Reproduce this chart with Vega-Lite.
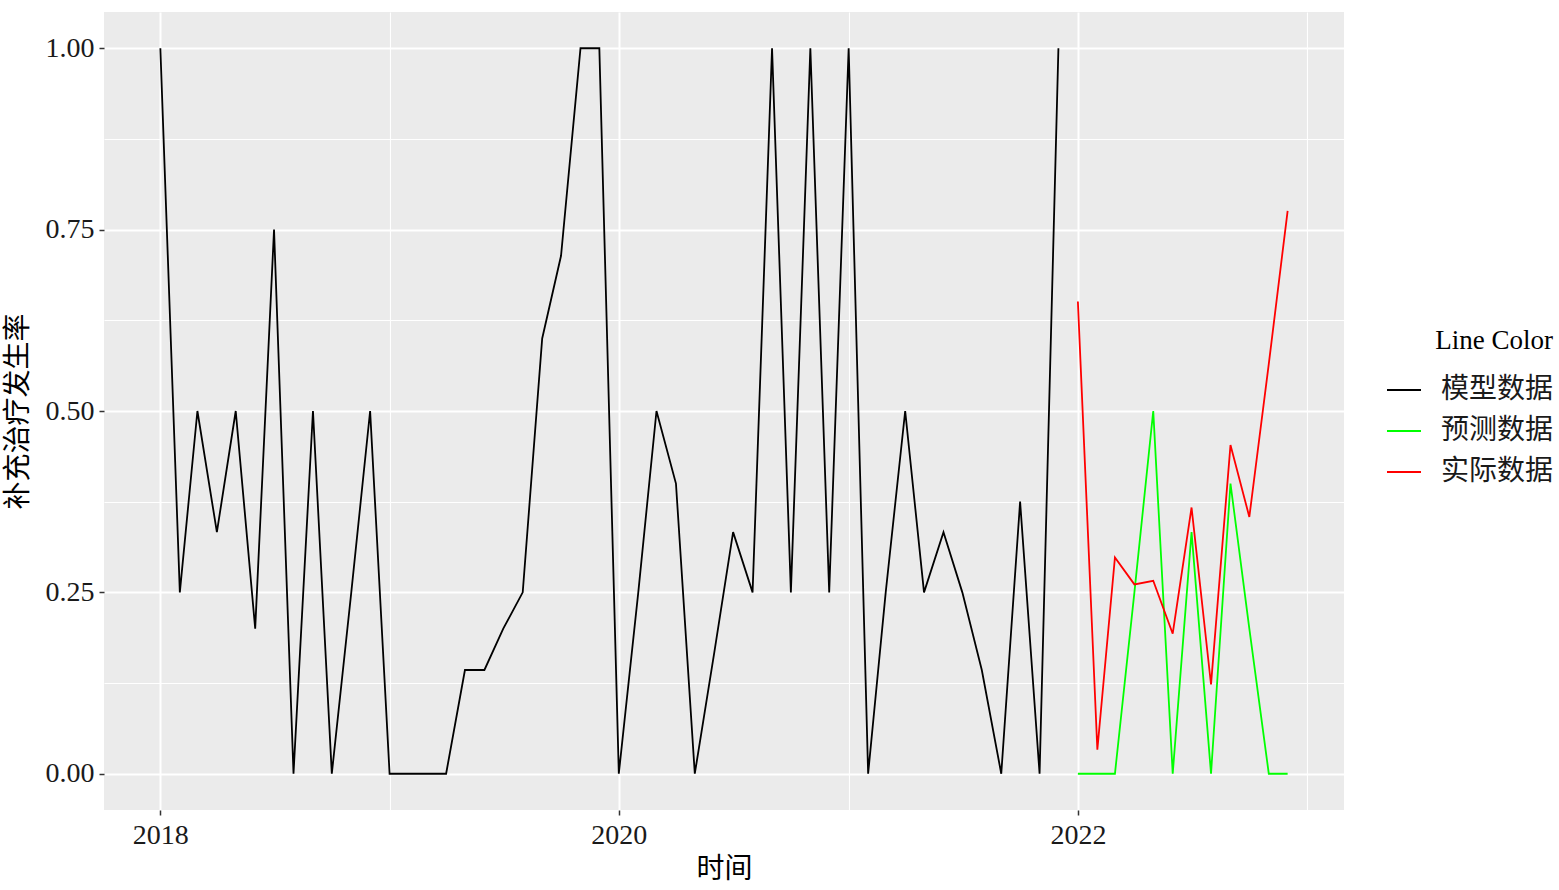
{
  "$schema": "https://vega.github.io/schema/vega-lite/v6.json",
  "autosize": {"type": "none"},
  "width": 1240,
  "height": 798,
  "padding": {"left": 104, "top": 12, "right": 215, "bottom": 80},
  "background": "white",
  "config": {
    "view": {"fill": "#EBEBEB", "stroke": null},
    "font": "Liberation Serif, Noto Sans CJK SC",
    "axis": {
      "domain": false,
      "gridColor": "#FFFFFF",
      "tickColor": "#333333",
      "tickWidth": 1.5,
      "tickSize": 5,
      "labelFont": "Liberation Serif, Noto Sans CJK SC",
      "labelFontSize": 28,
      "labelColor": "#1A1A1A",
      "titleFont": "Liberation Serif, Noto Sans CJK SC",
      "titleFontSize": 28,
      "titleFontWeight": "normal",
      "titleColor": "#000000"
    },
    "legend": {
      "labelFont": "Liberation Serif, Noto Sans CJK SC",
      "titleFont": "Liberation Serif, Noto Sans CJK SC"
    }
  },
  "data": {
    "values": [
      {"date": "2018-01-01T00:00:00", "value": 1.0, "series": "模型数据"},
      {"date": "2018-02-01T00:00:00", "value": 0.25, "series": "模型数据"},
      {"date": "2018-03-01T00:00:00", "value": 0.5, "series": "模型数据"},
      {"date": "2018-04-01T00:00:00", "value": 0.333, "series": "模型数据"},
      {"date": "2018-05-01T00:00:00", "value": 0.5, "series": "模型数据"},
      {"date": "2018-06-01T00:00:00", "value": 0.2, "series": "模型数据"},
      {"date": "2018-07-01T00:00:00", "value": 0.75, "series": "模型数据"},
      {"date": "2018-08-01T00:00:00", "value": 0.0, "series": "模型数据"},
      {"date": "2018-09-01T00:00:00", "value": 0.5, "series": "模型数据"},
      {"date": "2018-10-01T00:00:00", "value": 0.0, "series": "模型数据"},
      {"date": "2018-11-01T00:00:00", "value": 0.25, "series": "模型数据"},
      {"date": "2018-12-01T00:00:00", "value": 0.5, "series": "模型数据"},
      {"date": "2019-01-01T00:00:00", "value": 0.0, "series": "模型数据"},
      {"date": "2019-02-01T00:00:00", "value": 0.0, "series": "模型数据"},
      {"date": "2019-03-01T00:00:00", "value": 0.0, "series": "模型数据"},
      {"date": "2019-04-01T00:00:00", "value": 0.0, "series": "模型数据"},
      {"date": "2019-05-01T00:00:00", "value": 0.143, "series": "模型数据"},
      {"date": "2019-06-01T00:00:00", "value": 0.143, "series": "模型数据"},
      {"date": "2019-07-01T00:00:00", "value": 0.2, "series": "模型数据"},
      {"date": "2019-08-01T00:00:00", "value": 0.25, "series": "模型数据"},
      {"date": "2019-09-01T00:00:00", "value": 0.6, "series": "模型数据"},
      {"date": "2019-10-01T00:00:00", "value": 0.714, "series": "模型数据"},
      {"date": "2019-11-01T00:00:00", "value": 1.0, "series": "模型数据"},
      {"date": "2019-12-01T00:00:00", "value": 1.0, "series": "模型数据"},
      {"date": "2020-01-01T00:00:00", "value": 0.0, "series": "模型数据"},
      {"date": "2020-02-01T00:00:00", "value": 0.25, "series": "模型数据"},
      {"date": "2020-03-01T00:00:00", "value": 0.5, "series": "模型数据"},
      {"date": "2020-04-01T00:00:00", "value": 0.4, "series": "模型数据"},
      {"date": "2020-05-01T00:00:00", "value": 0.0, "series": "模型数据"},
      {"date": "2020-06-01T00:00:00", "value": 0.167, "series": "模型数据"},
      {"date": "2020-07-01T00:00:00", "value": 0.333, "series": "模型数据"},
      {"date": "2020-08-01T00:00:00", "value": 0.25, "series": "模型数据"},
      {"date": "2020-09-01T00:00:00", "value": 1.0, "series": "模型数据"},
      {"date": "2020-10-01T00:00:00", "value": 0.25, "series": "模型数据"},
      {"date": "2020-11-01T00:00:00", "value": 1.0, "series": "模型数据"},
      {"date": "2020-12-01T00:00:00", "value": 0.25, "series": "模型数据"},
      {"date": "2021-01-01T00:00:00", "value": 1.0, "series": "模型数据"},
      {"date": "2021-02-01T00:00:00", "value": 0.0, "series": "模型数据"},
      {"date": "2021-03-01T00:00:00", "value": 0.25, "series": "模型数据"},
      {"date": "2021-04-01T00:00:00", "value": 0.5, "series": "模型数据"},
      {"date": "2021-05-01T00:00:00", "value": 0.25, "series": "模型数据"},
      {"date": "2021-06-01T00:00:00", "value": 0.333, "series": "模型数据"},
      {"date": "2021-07-01T00:00:00", "value": 0.25, "series": "模型数据"},
      {"date": "2021-08-01T00:00:00", "value": 0.143, "series": "模型数据"},
      {"date": "2021-09-01T00:00:00", "value": 0.0, "series": "模型数据"},
      {"date": "2021-10-01T00:00:00", "value": 0.375, "series": "模型数据"},
      {"date": "2021-11-01T00:00:00", "value": 0.0, "series": "模型数据"},
      {"date": "2021-12-01T00:00:00", "value": 1.0, "series": "模型数据"},
      {"date": "2022-01-01T00:00:00", "value": 0.0, "series": "预测数据"},
      {"date": "2022-02-01T00:00:00", "value": 0.0, "series": "预测数据"},
      {"date": "2022-03-01T00:00:00", "value": 0.0, "series": "预测数据"},
      {"date": "2022-04-01T00:00:00", "value": 0.25, "series": "预测数据"},
      {"date": "2022-05-01T00:00:00", "value": 0.5, "series": "预测数据"},
      {"date": "2022-06-01T00:00:00", "value": 0.0, "series": "预测数据"},
      {"date": "2022-07-01T00:00:00", "value": 0.333, "series": "预测数据"},
      {"date": "2022-08-01T00:00:00", "value": 0.0, "series": "预测数据"},
      {"date": "2022-09-01T00:00:00", "value": 0.4, "series": "预测数据"},
      {"date": "2022-10-01T00:00:00", "value": 0.2, "series": "预测数据"},
      {"date": "2022-11-01T00:00:00", "value": 0.0, "series": "预测数据"},
      {"date": "2022-12-01T00:00:00", "value": 0.0, "series": "预测数据"},
      {"date": "2022-01-01T00:00:00", "value": 0.651, "series": "实际数据"},
      {"date": "2022-02-01T00:00:00", "value": 0.033, "series": "实际数据"},
      {"date": "2022-03-01T00:00:00", "value": 0.298, "series": "实际数据"},
      {"date": "2022-04-01T00:00:00", "value": 0.261, "series": "实际数据"},
      {"date": "2022-05-01T00:00:00", "value": 0.266, "series": "实际数据"},
      {"date": "2022-06-01T00:00:00", "value": 0.193, "series": "实际数据"},
      {"date": "2022-07-01T00:00:00", "value": 0.367, "series": "实际数据"},
      {"date": "2022-08-01T00:00:00", "value": 0.123, "series": "实际数据"},
      {"date": "2022-09-01T00:00:00", "value": 0.453, "series": "实际数据"},
      {"date": "2022-10-01T00:00:00", "value": 0.354, "series": "实际数据"},
      {"date": "2022-11-01T00:00:00", "value": 0.565, "series": "实际数据"},
      {"date": "2022-12-01T00:00:00", "value": 0.776, "series": "实际数据"}
    ]
  },
  "mark": {"type": "line", "strokeWidth": 1.8, "interpolate": "linear"},
  "encoding": {
    "x": {
      "field": "date",
      "type": "temporal",
      "title": "时间",
      "scale": {
        "domain": [
          {"year": 2017, "month": 10, "date": 3, "hours": 6},
          {"year": 2023, "month": 2, "date": 28, "hours": 18}
        ],
        "nice": false
      },
      "axis": {
        "values": [
          {"year": 2018, "month": 1, "date": 1},
          {"year": 2019, "month": 1, "date": 1},
          {"year": 2020, "month": 1, "date": 1},
          {"year": 2021, "month": 1, "date": 1},
          {"year": 2022, "month": 1, "date": 1},
          {"year": 2023, "month": 1, "date": 1}
        ],
        "labelExpr": "year(datum.value) % 2 == 0 ? timeFormat(datum.value, '%Y') : ''",
        "gridWidth": {"condition": {"test": "year(datum.value) % 2 == 1", "value": 1.1}, "value": 2},
        "tickOpacity": {"condition": {"test": "year(datum.value) % 2 == 1", "value": 0}, "value": 1},
        "labelPadding": 6,
        "titlePadding": 6,
        "labelFlush": false,
        "labelOverlap": false
      }
    },
    "y": {
      "field": "value",
      "type": "quantitative",
      "title": "补充治疗发生率",
      "scale": {"domain": [-0.05, 1.05], "nice": false, "zero": false},
      "axis": {
        "values": [0, 0.125, 0.25, 0.375, 0.5, 0.625, 0.75, 0.875, 1],
        "labelExpr": "(datum.value * 8) % 2 == 0 ? format(datum.value, '.2f') : ''",
        "gridWidth": {"condition": {"test": "(datum.value * 8) % 2 == 1", "value": 1.1}, "value": 2},
        "tickOpacity": {"condition": {"test": "(datum.value * 8) % 2 == 1", "value": 0}, "value": 1},
        "labelPadding": 5,
        "titlePadding": 13,
        "labelFlush": false,
        "labelOverlap": false
      }
    },
    "color": {
      "field": "series",
      "type": "nominal",
      "scale": {
        "domain": ["模型数据", "预测数据", "实际数据"],
        "range": ["#000000", "#00FF00", "#FF0000"]
      },
      "legend": {
        "title": "Line Color",
        "orient": "none",
        "legendX": 1282,
        "legendY": 316,
        "padding": 0,
        "symbolType": "stroke",
        "symbolSize": 1156,
        "symbolStrokeWidth": 1.8,
        "labelFontSize": 28,
        "titleFontSize": 27,
        "titleFontWeight": "normal",
        "titleColor": "#000000",
        "labelColor": "#1A1A1A",
        "titleAnchor": "end",
        "titlePadding": 17,
        "labelOffset": 19,
        "rowPadding": 9,
        "labelLimit": 300
      }
    }
  }
}
